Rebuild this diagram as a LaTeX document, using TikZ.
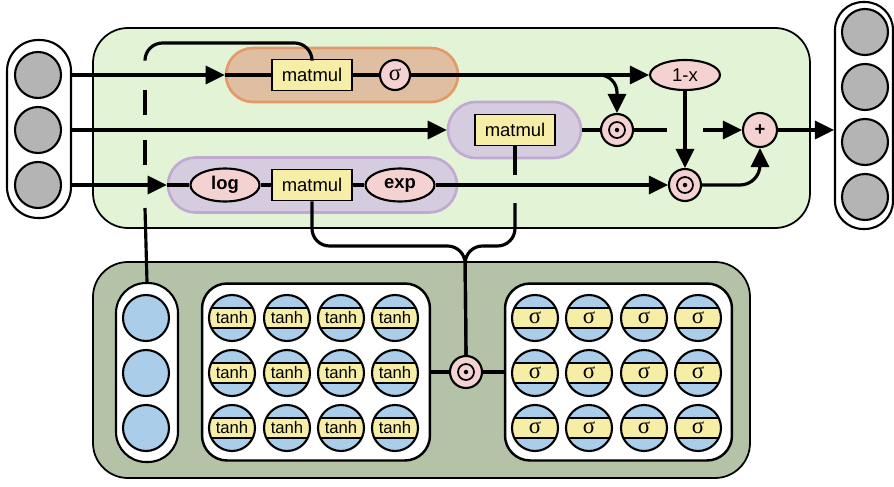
\documentclass[tikz,border=0pt]{standalone}
\usepackage{fontspec}
\setmainfont{Liberation Sans}
\newfontfamily\greekserif{Liberation Serif}
\usepackage{xcolor}
\usetikzlibrary{arrows.meta,calc,shapes.geometric}
\definecolor{topgreen}{HTML}{E2F4D5}
\definecolor{lowgreen}{HTML}{B4C3A8}
\definecolor{gatefill}{HTML}{E0BEA2}
\definecolor{gateedge}{HTML}{E49A68}
\definecolor{violetfill}{HTML}{D6CCE0}
\definecolor{violetedge}{HTML}{C0A9D3}
\definecolor{boxyellow}{HTML}{F6EDA6}
\definecolor{oppink}{HTML}{F5D2D2}
\definecolor{unitblue}{HTML}{AACDEA}
\definecolor{unitgray}{HTML}{B4B4B4}
\tikzset{
  conn/.style={line width=1.8pt},
  opbox/.style={draw, line width=1pt, fill=boxyellow, minimum width=1.6cm,
    minimum height=0.62cm, inner sep=0pt, font=\fontsize{10.5}{12}\selectfont},
  opcirc/.style={circle, draw, line width=1.2pt, fill=oppink, minimum size=0.64cm, inner sep=0pt},
  opoval/.style={ellipse, draw, line width=1.2pt, fill=oppink, minimum width=1.38cm,
    minimum height=0.66cm, inner sep=0pt, font=\fontsize{10.5}{12}\selectfont},
  hadamard/.style={opcirc, path picture={
    \draw[line width=1pt] (path picture bounding box.center) circle (0.16cm);
    \fill[black] (path picture bounding box.center) circle (0.045cm);}},
  unit/.style={circle, draw, line width=1.2pt, minimum size=0.92cm, inner sep=0pt},
  bandunit/.style={unit, fill=unitblue, font=\fontsize{9.5}{11}\selectfont, path picture={
    \fill[boxyellow] ([yshift=-0.2cm]path picture bounding box.west)
      rectangle ([yshift=0.2cm]path picture bounding box.east);
    \draw[line width=1pt] ([yshift=-0.2cm]path picture bounding box.west)
      -- ([yshift=-0.2cm]path picture bounding box.east);
    \draw[line width=1pt] ([yshift=0.2cm]path picture bounding box.west)
      -- ([yshift=0.2cm]path picture bounding box.east);}},
  column/.style={draw, line width=1.2pt, fill=white, inner sep=0pt},
  gatepill/.style={draw=#1edge, fill=#1fill, line width=1.5pt, inner sep=0pt},
  >={Triangle[length=0.38cm,width=0.36cm]}
}
\begin{document}
\begin{tikzpicture}[x=0.02cm,y=-0.02cm]
  \useasboundingbox (0,0) rectangle (894,487);
  \draw[line width=1pt, fill=topgreen, rounded corners=0.7cm] (93,28) rectangle (810,228);
  \draw[line width=1pt, fill=lowgreen, rounded corners=0.7cm] (93,262) rectangle (750,478);

  \node[column, rounded corners=0.62cm, minimum width=1.28cm, minimum height=3.56cm] (inbox) at (39,129) {};
  \foreach \y [count=\i] in {75,130,185}
    \node[unit, fill=unitgray] (in\i) at (38,\y) {};
  \node[column, rounded corners=0.56cm, minimum width=1.16cm, minimum height=4.54cm] (outbox) at (864,115.5) {};
  \foreach \y [count=\i] in {32,87,142,197}
    \node[unit, fill=unitgray] (out\i) at (865,\y) {};

  \node[gatepill=gate, rounded corners=0.54cm, minimum width=4.64cm, minimum height=1.08cm] (gatea) at (342,75) {};
  \node[gatepill=violet, rounded corners=0.56cm, minimum width=2.66cm, minimum height=1.12cm] (gateb) at (514.5,130) {};
  \node[gatepill=violet, rounded corners=0.55cm, minimum width=5.78cm, minimum height=1.1cm] (gatec) at (312.5,185) {};

  \node[opbox] (mm1) at (312,75) {matmul};
  \node[opcirc, minimum size=0.6cm, font=\greekserif\fontsize{13}{14}\selectfont] (sig) at (395,75) {σ};
  \node[opbox] (mm2) at (515,130) {matmul};
  \node[opoval, font=\bfseries\fontsize{10.5}{12}\selectfont] (log) at (225,185) {log};
  \node[opbox] (mm3) at (312,185) {matmul};
  \node[opoval, font=\bfseries\fontsize{10.5}{12}\selectfont] (exp) at (400,185) {exp};
  \node[opoval, minimum width=1.4cm, minimum height=0.6cm] (omx) at (685,75) {1-x};
  \node[hadamard] (odot1) at (617,130) {};
  \node[hadamard] (odot2) at (685,185) {};
  \node[opcirc, minimum size=0.68cm, font=\bfseries\fontsize{10.5}{12}\selectfont] (plus) at (760,130) {+};

  \coordinate (fork) at (595,75);
  \coordinate (cut1) at (667,130);
  \coordinate (cut2) at (703,130);
  \coordinate (dtop) at (145,60);
  \coordinate (loop) at (230,43);
  \coordinate (dash1) at (145,90);
  \coordinate (dash2) at (145,165);
  \coordinate (dash3) at (145,208);
  \coordinate (stemcut1) at (515,175);
  \coordinate (stemcut2) at (515,203);
  \coordinate (join) at (465,246);

  \node[column, rounded corners=0.6cm, minimum width=1.24cm, minimum height=3.58cm] (hid) at (147,372.5) {};
  \foreach \y [count=\i] in {318,373,428}
    \node[unit, fill=unitblue] (h\i) at (146,\y) {};
  \node[column, line width=1.4pt, rounded corners=0.5cm, minimum width=4.56cm, minimum height=3.54cm] (tanhbox) at (316,372) {};
  \node[column, line width=1.4pt, rounded corners=0.5cm, minimum width=4.54cm, minimum height=3.54cm] (sigbox) at (618.5,372) {};
  \foreach \x [count=\i] in {232,287,341,395}
    \foreach \y [count=\j] in {318,373,428}
      \node[bandunit] (t\i\j) at (\x,\y) {tanh};
  \foreach \x [count=\i] in {535,589,644,698}
    \foreach \y [count=\j] in {318,373,428}
      \node[bandunit, font=\greekserif\fontsize{13}{14}\selectfont] (s\i\j) at (\x,\y) {σ};
  \node[hadamard] (odot3) at (466,372) {};

  \draw[conn,->] (in1 -| inbox.east) -- (gatea.west);
  \draw[conn] (gatea.west) -- (mm1.west);
  \draw[conn] (mm1.east) -- (sig.west);
  \draw[conn,->] (sig.east) -- (omx.west);
  \draw[conn,->,rounded corners=0.35cm] (fork) -| (odot1.north);
  \draw[conn,->] (in2 -| inbox.east) -- (gateb.west);
  \draw[conn] (gateb.east) -- (odot1.west);
  \draw[conn] (odot1.east) -- (cut1);
  \draw[conn,->] (cut2) -- (plus.west);
  \draw[conn,->] (omx.south) -- (odot2.north);
  \draw[conn,->] (in3 -| inbox.east) -- (gatec.west);
  \draw[conn] (gatec.west) -- (log.west);
  \draw[conn] (log.east) -- (mm3.west);
  \draw[conn] (mm3.east) -- (exp.west);
  \draw[conn,->] (exp.east) -- (odot2.west);
  \draw[conn,->,rounded corners=0.4cm] (odot2.east) -| (plus.south);
  \draw[conn,->] (plus.east) -- (plus -| outbox.west);

  \draw[conn,rounded corners=0.35cm] (dtop) |- (loop) -| (mm1.north);
  \draw[conn,dash pattern=on 0.5cm off 0.5cm] (dash1) -- (dash2);
  \draw[conn] (dash3) -- (hid.north);

  \draw[conn,rounded corners=0.35cm] (mm3.south) |- (join) -- (odot3.north);
  \draw[conn] (mm2.south) -- (stemcut1);
  \draw[conn,rounded corners=0.35cm] (stemcut2) |- (join) -- (odot3.north);
  \draw[conn] (odot3 -| tanhbox.east) -- (odot3.west);
  \draw[conn] (odot3.east) -- (odot3 -| sigbox.west);
\end{tikzpicture}
\end{document}
